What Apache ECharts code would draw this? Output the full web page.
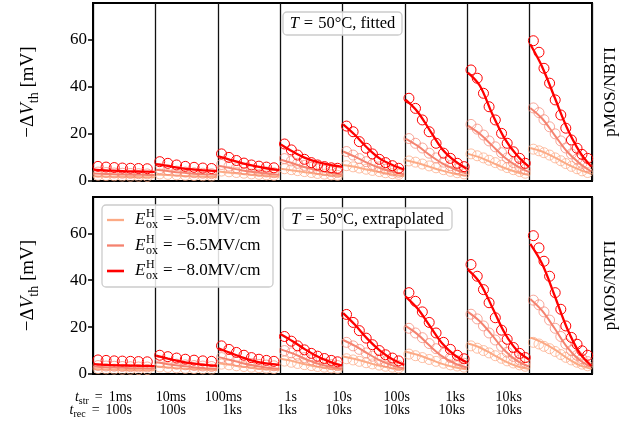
<!DOCTYPE html>
<html><head><meta charset="utf-8">
<script src="https://cdn.jsdelivr.net/npm/echarts@6/dist/echarts.min.js"></script>
<style>html,body{margin:0;padding:0;background:#fff}#c{width:628px;height:430px}</style>
</head><body><div id="c"></div>
<script>
// ---------- data ----------
const FIELDS = ['\u22125.0MV/cm', '\u22126.5MV/cm', '\u22128.0MV/cm'];
const COLORS = ['#fcaa85', '#f5826f', '#ff0000'];
const T_STR = ['1ms', '10ms', '100ms', '1s', '10s', '100s', '1ks', '10ks'];
const T_REC = ['100s', '100s', '1ks', '1ks', '10ks', '10ks', '10ks', '10ks'];
const Y_TICKS = [0, 20, 40, 60];
const PANEL_TITLES = ['fitted', 'extrapolated'];

// normalized log recovery time inside each stress panel
const MEAS_X = [
  [0.08,0.21,0.34,0.47,0.6,0.73,0.87],
  [0.07,0.2,0.34,0.48,0.62,0.76,0.9],
  [0.06,0.18,0.3,0.42,0.54,0.66,0.78,0.9],
  [0.07,0.18,0.28,0.39,0.5,0.6,0.71,0.82,0.92],
  [0.065,0.17,0.27,0.38,0.48,0.59,0.69,0.8,0.9],
  [0.065,0.17,0.28,0.39,0.5,0.62,0.73,0.84,0.95],
  [0.06,0.16,0.26,0.35,0.45,0.55,0.64,0.74,0.84,0.93],
  [0.06,0.15,0.23,0.32,0.41,0.5,0.58,0.67,0.76,0.84,0.93]
];
const MODEL_X = [0.01,0.2,0.4,0.6,0.8,0.99];

// ---- fitted (top) ----
const FIT_MEAS_50 = [
  [2.4,2.3,2.2,2.1,2.0,2.0,1.9],
  [3.0,2.8,2.6,2.4,2.3,2.2,2.1],
  [4.2,3.9,3.6,3.3,3.0,2.8,2.6,2.4],
  [5.2,4.8,4.4,4.0,3.6,3.2,2.9,2.6,2.4],
  [6.5,6.0,5.5,5.0,4.5,4.0,3.5,3.1,2.8],
  [8.5,8.0,7.2,6.4,5.6,4.8,4.1,3.5,3.0],
  [11.5,10.7,9.8,8.8,7.8,6.7,5.7,4.8,4.0,3.3],
  [13.5,12.8,12.0,11.0,9.8,8.6,7.4,6.2,5.2,4.3,3.6]
];
const FIT_MODEL_50 = [
  [2.0,1.9,1.8,1.7,1.6,1.6],
  [2.8,2.5,2.2,2.0,1.8,1.7],
  [4.0,3.5,3.0,2.5,2.1,1.8],
  [5.2,4.5,3.7,3.0,2.4,2.0],
  [6.8,6.0,4.8,3.7,2.8,2.1],
  [8.8,7.6,6.0,4.4,3.1,2.2],
  [11.5,10.0,7.8,5.5,3.7,2.5],
  [14.0,12.5,10.0,7.2,4.8,3.0]
];
const FIT_MEAS_65 = [
  [3.8,3.6,3.4,3.3,3.2,3.1,3.0],
  [5.2,4.7,4.2,3.8,3.5,3.3,3.1],
  [7.0,6.3,5.6,5.0,4.5,4.1,3.8,3.5],
  [9.5,8.5,7.5,6.6,5.8,5.1,4.5,4.0,3.6],
  [12.5,11.0,9.5,8.2,7.0,6.0,5.0,4.3,3.7],
  [18.0,16.0,14.0,11.8,9.8,8.0,6.5,5.2,4.3],
  [24.0,22.0,19.5,17.0,14.5,12.0,9.8,7.8,6.2,5.0],
  [31.0,29.0,26.0,23.0,20.0,17.0,14.0,11.5,9.3,7.5,6.0]
];
const FIT_MODEL_65 = [
  [3.2,3.0,2.8,2.7,2.6,2.5],
  [4.8,4.2,3.6,3.1,2.8,2.6],
  [6.5,5.5,4.5,3.7,3.1,2.7],
  [9.0,7.5,5.8,4.5,3.5,2.8],
  [12.5,10.3,7.7,5.5,3.9,2.8],
  [18.0,15.0,11.0,7.5,5.0,3.2],
  [23.5,20.0,15.0,10.0,6.3,3.8],
  [31.0,26.5,19.5,12.5,7.5,4.0]
];
const FIT_MEAS_80 = [
  [6.2,5.9,5.7,5.5,5.4,5.3,5.2],
  [8.2,7.5,6.8,6.2,5.8,5.5,5.3],
  [11.5,10.0,8.7,7.6,6.8,6.3,5.9,5.6],
  [15.7,13.2,11.0,9.2,7.8,6.8,6.1,5.6,5.4],
  [23.3,20.9,16.7,13.9,11.5,9.2,7.8,6.5,5.4],
  [35.1,30.8,25.9,20.9,16.0,11.8,9.6,7.5,6.1],
  [47.1,43.6,37.2,31.5,25.9,20.2,16.0,12.4,9.6,7.5],
  [59.5,54.6,47.8,41.5,34.4,28.0,22.4,17.4,13.9,11.3,9.6]
];
const FIT_MODEL_80 = [
  [4.8,4.5,4.3,4.1,4.0,3.9],
  [7.2,6.4,5.5,4.9,4.5,4.2],
  [10.5,9.0,7.5,6.3,5.3,4.6],
  [15.5,12.5,9.8,8.0,6.8,6.0],
  [24.0,19.5,14.0,9.5,6.8,4.8],
  [34.5,29.5,21.5,13.5,8.5,5.2],
  [46.0,40.5,28.5,18.0,10.8,6.0],
  [58.0,48.5,35.5,22.5,12.5,6.0]
];

// ---- extrapolated (bottom) ----
const EXT_MEAS_50 = [
  [2.3,2.2,2.1,2.0,2.0,1.9,1.9],
  [3.0,2.8,2.6,2.4,2.3,2.2,2.1],
  [4.2,3.9,3.5,3.2,2.9,2.7,2.5,2.3],
  [5.5,5.0,4.5,4.0,3.6,3.2,2.9,2.6,2.4],
  [6.5,6.0,5.4,4.8,4.3,3.8,3.3,2.9,2.6],
  [8.5,7.8,7.0,6.2,5.4,4.6,3.9,3.4,2.9],
  [12.0,11.0,10.0,9.0,7.8,6.7,5.6,4.7,3.9,3.3],
  [13.5,12.8,11.8,10.8,9.6,8.3,7.1,6.0,5.0,4.2,3.5]
];
const EXT_MODEL_50 = [
  [2.1,1.9,1.8,1.7,1.6,1.6],
  [3.2,2.8,2.4,2.1,1.9,1.7],
  [4.6,3.9,3.1,2.5,2.0,1.7],
  [6.5,5.5,4.2,3.1,2.3,1.8],
  [7.5,6.4,4.9,3.5,2.5,1.9],
  [9.5,8.2,6.3,4.3,2.9,2.0],
  [13.0,11.3,8.5,5.5,3.3,2.1],
  [15.5,13.5,10.5,6.8,3.8,2.2]
];
const EXT_MEAS_65 = [
  [3.6,3.4,3.3,3.2,3.1,3.0,3.0],
  [5.0,4.6,4.2,3.9,3.6,3.4,3.2],
  [7.0,6.3,5.6,5.0,4.5,4.1,3.8,3.5],
  [10.0,9.0,8.0,7.0,6.1,5.3,4.6,4.0,3.6],
  [13.5,12.0,10.5,9.0,7.6,6.3,5.2,4.3,3.6],
  [19.5,17.5,15.5,13.0,10.8,8.8,7.0,5.6,4.6],
  [25.5,23.5,20.5,17.5,14.5,11.8,9.3,7.5,6.0,5.0],
  [31.5,29.5,26.5,23.0,19.5,16.0,12.8,10.0,8.0,6.5,5.3]
];
const EXT_MODEL_65 = [
  [3.2,2.9,2.7,2.5,2.4,2.3],
  [5.0,4.2,3.5,2.9,2.5,2.2],
  [7.2,6.0,4.6,3.5,2.7,2.2],
  [10.5,8.8,6.5,4.5,3.1,2.3],
  [14.5,12.0,8.8,5.8,3.7,2.4],
  [20.5,17.0,12.0,7.5,4.5,2.8],
  [26.5,22.5,16.5,10.0,5.6,3.2],
  [32.0,27.0,19.5,11.5,6.0,3.0]
];
const EXT_MEAS_80 = [
  [6.0,5.8,5.6,5.5,5.4,5.3,5.2],
  [8.0,7.4,6.8,6.3,5.9,5.6,5.4],
  [12.0,10.5,9.2,8.0,7.0,6.3,5.8,5.4],
  [16.0,14.0,12.0,10.3,8.8,7.6,6.6,5.8,5.2],
  [25.4,22.0,18.5,15.3,12.5,10.0,8.2,6.8,5.6],
  [34.7,31.0,26.5,22.0,17.5,13.5,10.5,8.0,6.5],
  [46.7,41.7,36.0,30.4,24.0,18.7,14.8,11.3,8.8,7.0],
  [59.0,53.8,48.1,41.7,34.7,27.6,20.5,15.6,12.7,9.9,8.0]
];
const EXT_MODEL_80 = [
  [4.2,3.9,3.7,3.6,3.5,3.4],
  [7.8,6.6,5.4,4.5,3.9,3.5],
  [11.0,9.0,7.0,5.4,4.4,3.9],
  [17.0,14.0,10.5,7.5,5.2,3.6],
  [26.0,21.0,15.0,10.0,6.3,3.9],
  [33.0,28.0,20.5,13.0,8.0,5.0],
  [44.5,39.0,28.5,17.5,10.0,6.2],
  [55.5,47.0,33.5,19.5,9.0,3.5]
];

const MEAS = [[FIT_MEAS_50, FIT_MEAS_65, FIT_MEAS_80], [EXT_MEAS_50, EXT_MEAS_65, EXT_MEAS_80]];
const MODEL = [[FIT_MODEL_50, FIT_MODEL_65, FIT_MODEL_80], [EXT_MODEL_50, EXT_MODEL_65, EXT_MODEL_80]];

// ---------- chart ----------
const SERIF = 'Liberation Serif';
const chart = echarts.init(document.getElementById('c'), null, {renderer: 'canvas'});
const GRIDS = [{top: 3, height: 178}, {top: 197, height: 177}];
const CIRCLE_ALPHA = [0.75, 0.7, 1];
const LINE_W = [2, 2, 2.3];

const grid = GRIDS.map(g => ({left: 93, width: 499, top: g.top, height: g.height, show: true,
  borderColor: '#000', borderWidth: 2, backgroundColor: 'rgba(0,0,0,0)'}));
const xAxis = GRIDS.map((g, i) => ({gridIndex: i, type: 'value', min: 0, max: 8, interval: 1,
  axisLabel: {show: false}, axisTick: {show: false}, axisLine: {show: false},
  splitLine: {show: true, lineStyle: {color: '#111', width: 1.3}}}));
const yName = '{n|\u2212\u0394}{i|V}{s|th}{n| [mV]}';
const yAxis = GRIDS.map((g, i) => ({gridIndex: i, type: 'value', min: 0, max: 75.5,
  axisLine: {show: true, lineStyle: {color: '#000', width: 2}},
  axisTick: {show: true, length: 5, customValues: Y_TICKS, lineStyle: {color: '#000', width: 1.5}},
  axisLabel: {customValues: Y_TICKS, color: '#000', fontSize: 17, fontFamily: SERIF, margin: 6},
  splitLine: {show: false},
  name: yName, nameLocation: 'middle', nameGap: 52, nameRotate: 90,
  nameTextStyle: {color: '#000', fontFamily: SERIF, fontSize: 19,
    rich: {
      n: {fontSize: 19, fontFamily: SERIF, color: '#000', lineHeight: 26, verticalAlign: 'middle'},
      i: {fontSize: 19, fontFamily: SERIF, fontStyle: 'italic', color: '#000', lineHeight: 26, verticalAlign: 'middle'},
      s: {fontSize: 14, fontFamily: SERIF, color: '#000', lineHeight: 13, verticalAlign: 'bottom'}
    }}
}));

const series = [];
for (let r = 0; r < 2; r++) {
  for (let f = 0; f < 3; f++) {
    const pts = [];
    for (let c = 0; c < 8; c++) {
      MEAS[r][f][c].forEach((v, k) => pts.push([c + MEAS_X[c][k], v]));
    }
    series.push({type: 'scatter', xAxisIndex: r, yAxisIndex: r, data: pts, symbol: 'circle', symbolSize: 10,
      z: 2 + f * 2, silent: true,
      itemStyle: {color: 'rgba(0,0,0,0)', borderColor: COLORS[f], borderWidth: 1, opacity: CIRCLE_ALPHA[f]}});
    for (let c = 0; c < 8; c++) {
      series.push({type: 'line', xAxisIndex: r, yAxisIndex: r, smooth: 0.35, showSymbol: false, silent: true,
        z: 3 + f * 2,
        data: MODEL[r][f][c].map((v, k) => [c + MODEL_X[k], v]),
        lineStyle: {color: COLORS[f], width: LINE_W[f]}});
    }
  }
}

// ---------- text / annotations ----------
const graphic = [];
function box(x, y, w, h) {
  return {type: 'rect', z: 100, shape: {x, y, width: w, height: h, r: 4},
    style: {fill: 'rgba(255,255,255,0.85)', stroke: '#cccccc', lineWidth: 1.3}};
}
const titleBoxes = [{x: 283, y: 12, w: 119, h: 23}, {x: 283, y: 208, w: 169, h: 22}];
PANEL_TITLES.forEach((t, i) => {
  const b = titleBoxes[i];
  graphic.push(box(b.x, b.y, b.w, b.h));
  graphic.push({type: 'text', z: 101, x: b.x + b.w / 2, y: b.y + b.h / 2 + 0.5,
    style: {text: '{i|T}{e|=}{n|50\u00b0C, ' + t + '}', align: 'center', verticalAlign: 'middle',
      rich: {i: {fontFamily: SERIF, fontSize: 16.5, fontStyle: 'italic', fill: '#000'},
             e: {fontFamily: SERIF, fontSize: 16.5, fill: '#000', padding: [0, 5, 0, 5]},
             n: {fontFamily: SERIF, fontSize: 16.5, fill: '#000'}}}});
});
// legend
graphic.push(box(102, 205, 171, 82));
const LEG_Y = [220, 245.5, 271];
FIELDS.forEach((lab, f) => {
  const y = LEG_Y[f];
  graphic.push({type: 'line', z: 101, shape: {x1: 107, y1: y, x2: 124, y2: y},
    style: {stroke: COLORS[f], lineWidth: LINE_W[f] + 0.3}});
  graphic.push({type: 'text', z: 101, x: 135, y: y, style: {text: 'E', fontFamily: SERIF, fontSize: 17,
    fontStyle: 'italic', fill: '#000', verticalAlign: 'middle'}});
  graphic.push({type: 'text', z: 101, x: 146, y: y - 6, style: {text: 'H', fontFamily: SERIF, fontSize: 12,
    fill: '#000', verticalAlign: 'middle'}});
  graphic.push({type: 'text', z: 101, x: 146, y: y + 5, style: {text: 'ox', fontFamily: SERIF, fontSize: 12,
    fill: '#000', verticalAlign: 'middle'}});
  graphic.push({type: 'text', z: 101, x: 163, y: y, style: {text: '= ' + lab, fontFamily: SERIF, fontSize: 17,
    fill: '#000', verticalAlign: 'middle'}});
});
// right side labels
GRIDS.forEach(g => {
  graphic.push({type: 'text', z: 101, x: 611, y: g.top + g.height / 2, rotation: Math.PI / 2,
    style: {text: 'pMOS/NBTI', fontFamily: SERIF, fontSize: 17, fill: '#000', align: 'center', verticalAlign: 'middle'}});
});
// bottom time labels
const LABEL_RIGHT = [132, 186, 242, 297, 352, 410, 465, 522];
const subRich = {
  i: {fontFamily: SERIF, fontSize: 14, fontStyle: 'italic', fill: '#000', lineHeight: 18, verticalAlign: 'middle'},
  s: {fontFamily: SERIF, fontSize: 10, fill: '#000', lineHeight: 9, verticalAlign: 'bottom'},
  e: {fontFamily: SERIF, fontSize: 14, fill: '#000', lineHeight: 18, verticalAlign: 'middle', padding: [0, 6, 0, 6]},
  n: {fontFamily: SERIF, fontSize: 14, fill: '#000', lineHeight: 18, verticalAlign: 'middle'}
};
T_STR.forEach((t, c) => {
  const s1 = c === 0 ? '{i|t}{s|str}{e|=}{n|' + t + '}' : '{n|' + t + '}';
  const s2 = c === 0 ? '{i|t}{s|rec}{e|=}{n|' + T_REC[c] + '}' : '{n|' + T_REC[c] + '}';
  graphic.push({type: 'text', z: 101, x: LABEL_RIGHT[c], y: 397,
    style: {text: s1, align: 'right', verticalAlign: 'middle', rich: subRich}});
  graphic.push({type: 'text', z: 101, x: LABEL_RIGHT[c], y: 410,
    style: {text: s2, align: 'right', verticalAlign: 'middle', rich: subRich}});
});

chart.setOption({
  animation: false,
  backgroundColor: '#fff',
  grid, xAxis, yAxis, series, graphic
});
</script>
</body></html>
